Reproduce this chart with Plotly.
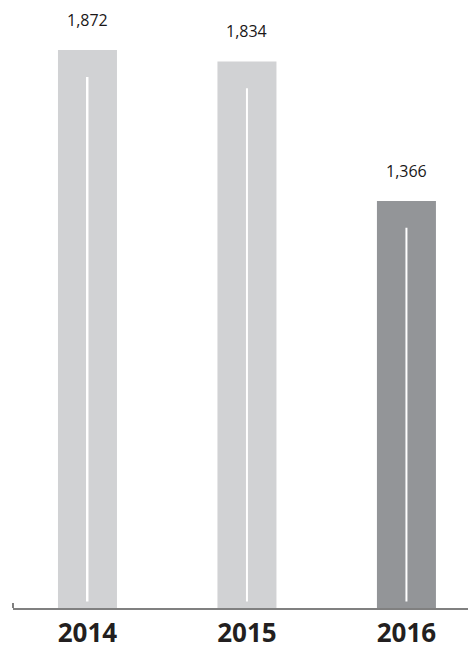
import plotly.graph_objects as go

# Annual totals
years = ["2014", "2015", "2016"]
totals = [1872, 1834, 1366]
bar_colors = ["#D1D2D4", "#D1D2D4", "#939598"]
value_labels = ["1,872", "1,834", "1,366"]

Y_MAX = 2040
STRIPE_BASE = 22      # gap between axis and bottom of the white stripe
STRIPE_TOP_GAP = 90   # gap between bar top and top of the white stripe

fig = go.Figure()

fig.add_trace(go.Bar(
    x=years, y=totals, width=0.37,
    marker=dict(color=bar_colors, line=dict(width=0)),
    hoverinfo="skip",
))

# thin white stripe running up the middle of each bar
fig.add_trace(go.Bar(
    x=years,
    y=[v - STRIPE_TOP_GAP - STRIPE_BASE for v in totals],
    base=[STRIPE_BASE] * len(totals),
    width=0.0125,
    marker=dict(color="white", line=dict(width=0)),
    hoverinfo="skip",
))

# value labels above each bar (category axis positions by index)
for i, (v, lbl) in enumerate(zip(totals, value_labels)):
    fig.add_annotation(
        x=i, y=v, xref="x", yref="y", text=lbl, showarrow=False,
        yanchor="bottom", yshift=17,
        font=dict(family="Open Sans", size=16, color="#1A1718"),
    )

# small end tick at the left of the baseline
fig.add_shape(type="line", xref="paper", yref="y",
              x0=0, x1=0, y0=-17, y1=17,
              line=dict(color="#808080", width=2))

fig.update_layout(
    width=468, height=650,
    margin=dict(l=13, r=0, t=0, b=33),
    paper_bgcolor="white", plot_bgcolor="white",
    barmode="overlay", showlegend=False,
    xaxis=dict(
        type="category", range=[-0.467, 2.386],
        showline=True, linecolor="#808080", linewidth=2,
        showgrid=False, zeroline=False, ticks="",
        tickfont=dict(family="Open Sans", size=26, color="#231F20", weight="bold"),
        ticklabelstandoff=1,
    ),
    yaxis=dict(range=[0, Y_MAX], visible=False, showgrid=False, zeroline=False),
)

fig.write_html("out.html")
